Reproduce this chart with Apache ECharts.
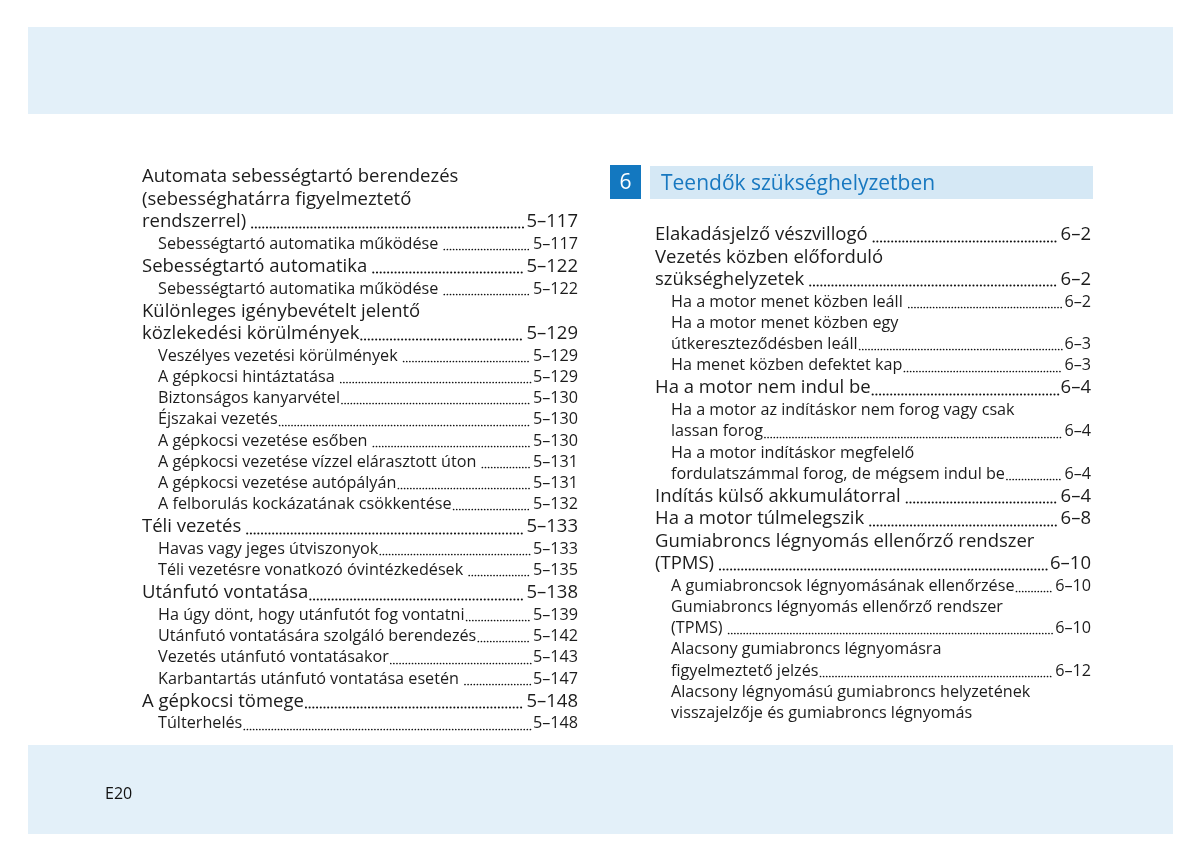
<!DOCTYPE html>
<html>
<head>
<meta charset="utf-8">
<script src="https://cdn.jsdelivr.net/npm/echarts@6/dist/echarts.min.js"></script>
<style>
    html, body { margin: 0; padding: 0; background: #fff; }
    #main { width: 1200px; height: 861px; }
</style>
</head>
<body>
<div id="main"></div>
<script>
// tartalomjegyzék adatai
const sectionNo = '6'
const sectionTitle = 'Teendők szükséghelyzetben'
const pageLabel = 'E20'

// [szint, sorok, oldalszám]
const leftEntries = [
    [1, ['Automata sebességtartó berendezés', '(sebességhatárra figyelmeztető', 'rendszerrel) '], '5–117'],
    [2, ['Sebességtartó automatika működése '], '5–117'],
    [1, ['Sebességtartó automatika '], '5–122'],
    [2, ['Sebességtartó automatika működése '], '5–122'],
    [1, ['Különleges igénybevételt jelentő', 'közlekedési körülmények'], '5–129'],
    [2, ['Veszélyes vezetési körülmények '], '5–129'],
    [2, ['A gépkocsi hintáztatása '], '5–129'],
    [2, ['Biztonságos kanyarvétel'], '5–130'],
    [2, ['Éjszakai vezetés'], '5–130'],
    [2, ['A gépkocsi vezetése esőben '], '5–130'],
    [2, ['A gépkocsi vezetése vízzel elárasztott úton '], '5–131'],
    [2, ['A gépkocsi vezetése autópályán'], '5–131'],
    [2, ['A felborulás kockázatának csökkentése'], '5–132'],
    [1, ['Téli vezetés '], '5–133'],
    [2, ['Havas vagy jeges útviszonyok'], '5–133'],
    [2, ['Téli vezetésre vonatkozó óvintézkedések '], '5–135'],
    [1, ['Utánfutó vontatása'], '5–138'],
    [2, ['Ha úgy dönt, hogy utánfutót fog vontatni'], '5–139'],
    [2, ['Utánfutó vontatására szolgáló berendezés'], '5–142'],
    [2, ['Vezetés utánfutó vontatásakor'], '5–143'],
    [2, ['Karbantartás utánfutó vontatása esetén '], '5–147'],
    [1, ['A gépkocsi tömege'], '5–148'],
    [2, ['Túlterhelés'], '5–148']
]

const rightEntries = [
    [1, ['Elakadásjelző vészvillogó '], '6–2'],
    [1, ['Vezetés közben előforduló', 'szükséghelyzetek '], '6–2'],
    [2, ['Ha a motor menet közben leáll '], '6–2'],
    [2, ['Ha a motor menet közben egy', 'útkereszteződésben leáll'], '6–3'],
    [2, ['Ha menet közben defektet kap'], '6–3'],
    [1, ['Ha a motor nem indul be'], '6–4'],
    [2, ['Ha a motor az indításkor nem forog vagy csak', 'lassan forog'], '6–4'],
    [2, ['Ha a motor indításkor megfelelő', 'fordulatszámmal forog, de mégsem indul be'], '6–4'],
    [1, ['Indítás külső akkumulátorral '], '6–4'],
    [1, ['Ha a motor túlmelegszik '], '6–8'],
    [1, ['Gumiabroncs légnyomás ellenőrző rendszer', '(TPMS) '], '6–10'],
    [2, ['A gumiabroncsok légnyomásának ellenőrzése'], '6–10'],
    [2, ['Gumiabroncs légnyomás ellenőrző rendszer', '(TPMS) '], '6–10'],
    [2, ['Alacsony gumiabroncs légnyomásra', 'figyelmeztető jelzés'], '6–12'],
    [2, ['Alacsony légnyomású gumiabroncs helyzetének', 'visszajelzője és gumiabroncs légnyomás'], '']
]

const FONT = '"Open Sans"'
const fontSize = {1: 18.5, 2: 16.2}
const textColor = '#1c1c1c'

const measureCtx = document.createElement('canvas').getContext('2d')
function textWidth (s, fs) {
    measureCtx.font = fs + 'px ' + FONT
    return measureCtx.measureText(s).width
}

function textEl (x, y, text, fs, align, color) {
    return {
        type: 'text',
        x: x,
        y: y,
        silent: true,
        style: {
            text: text,
            font: fs + 'px ' + FONT,
            fill: color || textColor,
            align: align || 'left',
            textAlign: align || 'left',
            verticalAlign: 'middle',
            textVerticalAlign: 'middle'
        }
    }
}

// egy oszlop sorai, pontozott vezetővonallal
function buildColumn (entries, xLeft, xRight, yStart, out) {
    let y = yStart
    let prev = 0
    entries.forEach(([lvl, lines, page]) => {
        lines.forEach((line, i) => {
            if (prev) {
                y += (prev === 2 && lvl === 2) ? 21.2 : 22.4
            }
            prev = lvl
            const fs = fontSize[lvl]
            const x = lvl === 1 ? xLeft : xLeft + 16
            out.push(textEl(x, y + 1, line.trim(), fs))
            if (i === lines.length - 1 && page) {
                out.push(textEl(xRight, y + 1, page, fs, 'right'))
                const a = x + textWidth(line.trim(), fs) + (line.endsWith(' ') ? 6 : 2)
                const b = xRight - textWidth(page, fs) - 2
                const base = Math.round(y + fs * 0.36) + 0.5
                out.push({
                    type: 'line',
                    silent: true,
                    shape: {x1: a, y1: base, x2: b, y2: base},
                    style: {
                        stroke: '#111',
                        lineWidth: lvl === 1 ? 2.1 : 1.7,
                        lineCap: 'round',
                        lineDash: lvl === 1 ? [0.01, 3.7] : [0.01, 3.1]
                    }
                })
            }
        })
    })
}

const elements = [
    // felső és alsó sáv
    {type: 'rect', shape: {x: 28, y: 27, width: 1145, height: 87}, style: {fill: '#e3f0f9'}, silent: true},
    {type: 'rect', shape: {x: 28, y: 745, width: 1145, height: 89}, style: {fill: '#e3f0f9'}, silent: true},
    textEl(105, 794, pageLabel, 16, 'left', '#111'),
    // fejezet fejléc
    {type: 'rect', shape: {x: 610, y: 165, width: 31, height: 34}, style: {fill: '#1378c0'}, silent: true},
    textEl(625.5, 183, sectionNo, 21, 'center', '#fff'),
    {type: 'rect', shape: {x: 650, y: 166, width: 443, height: 33}, style: {fill: '#d5e8f5'}, silent: true},
    textEl(661, 184, sectionTitle, 21, 'left', '#1878c0')
]

buildColumn(leftEntries, 142, 578, 176, elements)
buildColumn(rightEntries, 655, 1091, 234, elements)

let myChart = echarts.init(document.getElementById('main'))
myChart.setOption({
    backgroundColor: '#fff',
    animation: false,
    graphic: {elements: elements}
})
</script>
</body>
</html>
